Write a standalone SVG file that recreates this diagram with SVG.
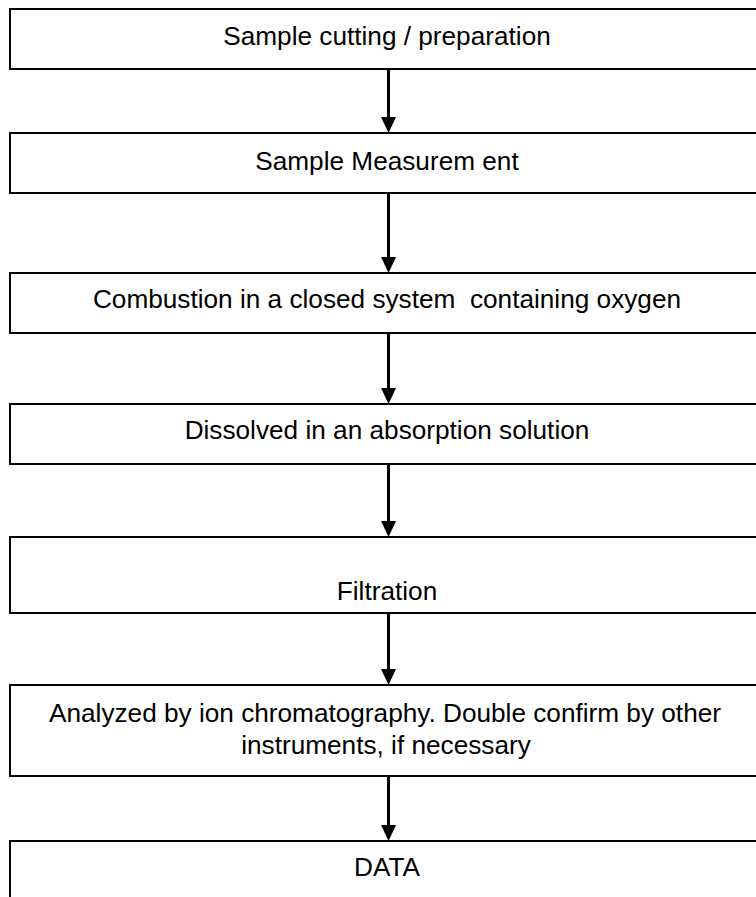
<svg xmlns="http://www.w3.org/2000/svg" width="756" height="897" viewBox="0 0 756 897">
  <style>
    .box { fill: #ffffff; stroke: #000000; stroke-width: 2; }
    .lbl { font-family: "Liberation Sans", Arial, sans-serif; font-size: 26.2px; fill: #000000; text-anchor: middle; }
    .conn { stroke: #000000; stroke-width: 3; fill: none; }
  </style>
  <defs>
    <marker id="arrow" viewBox="0 0 16 15" refX="0" refY="7.5" markerUnits="userSpaceOnUse" markerWidth="16" markerHeight="15" orient="auto">
      <path d="M0,0 L16,7.5 L0,15 Z" fill="#000000"/>
    </marker>
  </defs>
  <rect x="0" y="0" width="756" height="897" fill="#ffffff"/>

  <g id="node-sample-cutting">
    <rect class="box" x="10" y="9" width="760" height="60"/>
    <text class="lbl" x="387" y="45">Sample cutting / preparation</text>
  </g>
  <g id="node-sample-measurement">
    <rect class="box" x="10" y="133" width="760" height="60"/>
    <text class="lbl" x="387" y="170">Sample Measurem ent</text>
  </g>
  <g id="node-combustion">
    <rect class="box" x="10" y="273" width="760" height="60"/>
    <text class="lbl" x="387" y="308" xml:space="preserve">Combustion in a closed system  containing oxygen</text>
  </g>
  <g id="node-dissolved">
    <rect class="box" x="10" y="404" width="760" height="60"/>
    <text class="lbl" x="387" y="439">Dissolved in an absorption solution</text>
  </g>
  <g id="node-filtration">
    <rect class="box" x="10" y="537" width="760" height="76"/>
    <text class="lbl" x="387" y="600">Filtration</text>
  </g>
  <g id="node-analyzed">
    <rect class="box" x="10" y="685" width="760" height="91"/>
    <text class="lbl" x="385" y="722">Analyzed by ion chromatography. Double confirm by other</text>
    <text class="lbl" x="386" y="754">instruments, if necessary</text>
  </g>
  <g id="node-data">
    <rect class="box" x="10" y="841" width="760" height="80"/>
    <text class="lbl" x="387" y="876">DATA</text>
  </g>

  <g id="connectors">
    <line class="conn" x1="388.5" y1="69" x2="388.5" y2="117" marker-end="url(#arrow)"/>
    <line class="conn" x1="388.5" y1="193" x2="388.5" y2="257" marker-end="url(#arrow)"/>
    <line class="conn" x1="388.5" y1="333" x2="388.5" y2="388" marker-end="url(#arrow)"/>
    <line class="conn" x1="388.5" y1="464" x2="388.5" y2="521" marker-end="url(#arrow)"/>
    <line class="conn" x1="388.5" y1="613" x2="388.5" y2="669" marker-end="url(#arrow)"/>
    <line class="conn" x1="388.5" y1="776" x2="388.5" y2="825" marker-end="url(#arrow)"/>
  </g>
</svg>
